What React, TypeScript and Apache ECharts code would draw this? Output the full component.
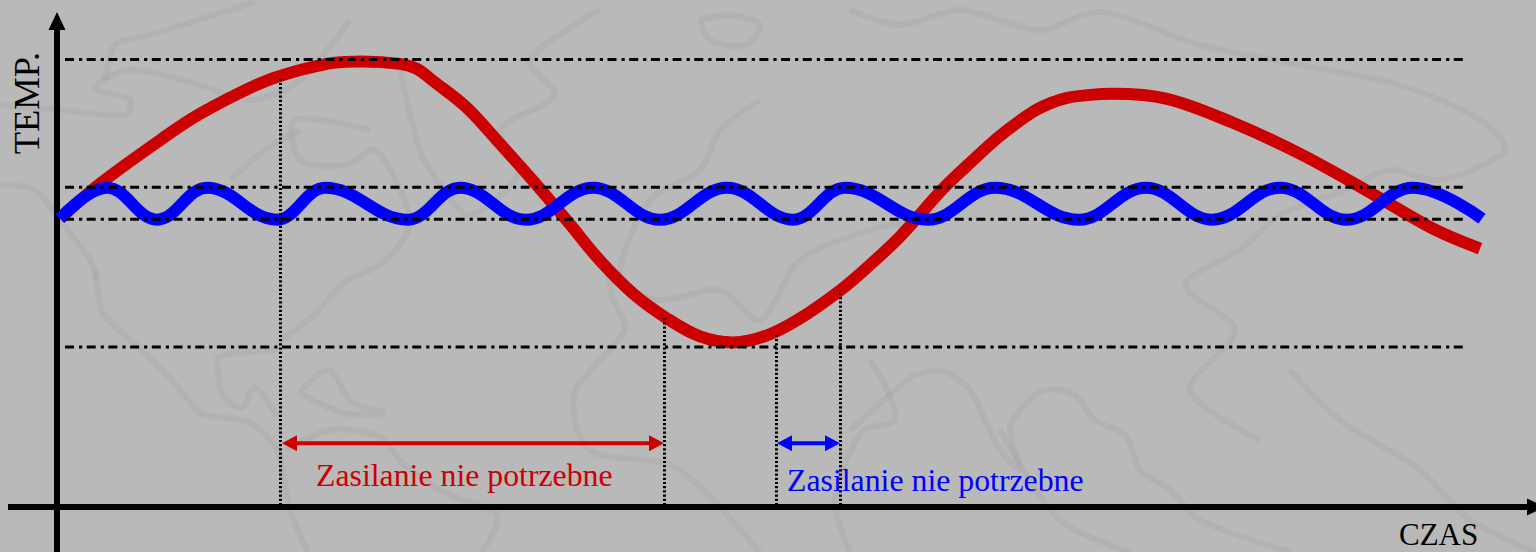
import React, { useEffect, useRef } from "react";
import * as echarts from "echarts";

// Time (t) and temperature (T), in arbitrary chart units.
const redTime = [3, 43, 110, 143, 193, 223, 276, 305, 343, 360, 376, 410, 443, 476, 510, 543, 576, 610, 643, 676, 710, 743, 783, 810, 843, 886, 910, 943, 976, 993, 1010, 1033, 1056, 1110, 1176, 1243, 1310, 1376, 1423];
const redTemp = [289, 324, 372.5, 394, 420, 432, 445, 446.5, 444, 439, 427, 400, 364, 327, 287, 247, 214, 189, 171, 165, 172, 189, 217, 240, 271, 319, 342, 372, 396, 404.5, 410, 413, 414, 409, 385, 354, 317, 279, 259];
const blueTime = [3, 50, 100, 150, 220, 268, 351, 403, 469, 536, 603, 670, 736, 788, 871, 938, 1022, 1089, 1155, 1223, 1290, 1356, 1425];
const blueTemp = [289, 320, 288, 320, 288, 320, 288, 320, 288, 320, 288, 320, 288, 320, 288, 320, 288, 320, 288, 320, 288, 320, 289];
const levelTemps = [448.5, 320.5, 288.5, 160.5];
const levelStart = 8;
const levelEnd = 1406;
const markerTimes = [223.5, 607.5, 719.5, 783.5];
const markerTops = [431, 192, 174, 217];
const redSpan = [232.5, 599.5];
const blueSpan = [727.5, 775.5];
const spanTemp = 64;
const xName = "CZAS";
const yName = "TEMP.";
const redLabel = "Zasilanie nie potrzebne";
const blueLabel = "Zasilanie nie potrzebne";

// Faint world map in the page background (decorative outlines, page pixels).
const mapOutlines: number[][][] = [
  [[96, 270], [103, 313], [134, 343], [178, 387], [201, 413], [250, 423], [277, 450], [290, 510], [308, 552]],
  [[277, 350], [219, 357], [219, 377], [223, 397], [243, 407], [254, 387], [277, 417]],
  [[299, 393], [328, 370], [353, 403], [384, 413], [344, 413], [299, 393]],
  [[286, 450], [330, 430], [380, 437], [402, 463], [446, 493], [496, 513], [496, 527], [482, 552]],
  [[281, 340], [312, 317], [344, 283], [384, 262], [410, 225], [400, 190], [375, 150], [345, 165], [300, 160], [295, 120], [370, 130]],
  [[607, 270], [612, 297], [625, 327], [612, 347], [576, 390], [576, 427], [594, 453], [665, 463], [696, 483], [760, 552]],
  [[0, 185], [35, 190], [60, 220], [90, 260], [96, 280]],
  [[0, 105], [60, 110], [125, 115], [130, 100], [95, 88], [130, 70], [200, 85], [250, 100], [300, 80], [350, 20]],
  [[105, 80], [115, 45], [150, 35], [230, 10], [255, 2]],
  [[230, 180], [265, 150], [300, 130]],
  [[400, 70], [420, 150], [440, 185], [470, 215], [520, 170], [500, 130], [555, 95], [530, 60], [600, 10]],
  [[850, 430], [890, 395], [915, 375], [945, 372], [970, 390], [985, 420], [1000, 450], [1020, 470], [1010, 430], [1020, 410], [1045, 390], [1075, 395], [1095, 420], [1125, 435], [1140, 470], [1170, 490], [1200, 520], [1290, 552]],
  [[870, 360], [885, 385], [895, 420], [862, 432], [835, 500], [850, 552]],
  [[700, 20], [730, 15], [760, 25], [745, 45], [710, 40], [700, 20]],
  [[850, 10], [900, 25], [960, 10], [1040, 30], [1100, 12], [1200, 45], [1300, 65], [1400, 85], [1480, 120], [1505, 150], [1440, 180], [1390, 170], [1345, 190], [1280, 215], [1240, 250], [1185, 285], [1235, 330], [1190, 390], [1260, 440]],
  [[760, 100], [720, 130], [700, 170], [650, 200], [620, 280], [660, 300], [720, 290], [760, 320], [800, 260], [870, 230], [925, 215], [960, 170], [1010, 130]],
  [[1290, 370], [1340, 420], [1420, 470], [1470, 520], [1536, 552]],
  [[1000, 430], [1060, 520], [1130, 552]],
];

const pairs = (xs: number[], ys: number[]) => xs.map((x, i) => [x, ys[i]]);

export default function App() {
  const ref = useRef<HTMLDivElement>(null);
  useEffect(() => {
    document.body.style.margin = "0";
    const chart = echarts.init(ref.current!, undefined, { renderer: "svg" });
    const serif = "Liberation Serif";
    const levelSeries = levelTemps.map((temp) => ({
      type: "line",
      silent: true,
      symbol: "none",
      z: 6,
      data: [[levelStart, temp], [levelEnd, temp]],
      lineStyle: { color: "#000", width: 3, type: [9, 5, 3.2, 4.5], cap: "butt" },
    }));
    const markerSeries = markerTimes.map((time, i) => ({
      type: "line",
      silent: true,
      symbol: "none",
      z: 6,
      data: [[time, 2], [time, markerTops[i]]],
      lineStyle: { color: "#000", width: 3, type: [2.2, 2], cap: "butt" },
    }));
    const spanSeries = (span: number[], color: string) => ({
      type: "line",
      silent: true,
      symbol: "triangle",
      symbolSize: [16, 15],
      showSymbol: true,
      showAllSymbol: true,
      z: 7,
      data: [
        { value: [span[0], spanTemp], symbolRotate: 90 },
        { value: [span[1], spanTemp], symbolRotate: -90 },
      ],
      itemStyle: { color },
      lineStyle: { color, width: 4 },
    });
    chart.setOption({
      animation: false,
      backgroundColor: "#b9b9b9",
      grid: { left: 8, right: 0, top: 21, bottom: -1 },
      xAxis: {
        type: "value",
        min: -49,
        max: 1479,
        splitLine: { show: false },
        axisTick: { show: false },
        axisLabel: { show: false },
        axisLine: {
          onZero: true,
          symbol: ["none", "triangle"],
          symbolSize: [17, 18],
          lineStyle: { color: "#000", width: 6, cap: "butt" },
        },
      },
      yAxis: {
        type: "value",
        min: -45,
        max: 487,
        splitLine: { show: false },
        axisTick: { show: false },
        axisLabel: { show: false },
        axisLine: {
          onZero: true,
          symbol: ["none", "triangle"],
          symbolSize: [17, 18],
          lineStyle: { color: "#000", width: 6, cap: "butt" },
        },
        name: yName,
        nameLocation: "end",
        nameRotate: 90,
        nameGap: -82,
        nameTextStyle: { fontFamily: serif, fontSize: 36.5, color: "#000", align: "center", verticalAlign: "bottom", padding: [0, 0, 12, 0] },
      },
      graphic: [
        ...mapOutlines.map((points) => ({
          type: "polyline",
          silent: true,
          z: -10,
          shape: { points, smooth: 0.3 },
          style: { fill: "none", stroke: "rgba(150,150,150,0.2)", lineWidth: 6, lineJoin: "round" },
        })),
        {
          type: "text",
          x: 1399,
          y: 550,
          z: 20,
          style: { text: xName, fill: "#000", font: `31px "${serif}"`, textAlign: "left", textVerticalAlign: "bottom" },
        },
        {
          type: "text",
          x: 316,
          y: 491,
          z: 20,
          style: { text: redLabel, fill: "#cc0000", font: `31.8px "${serif}"`, textAlign: "left", textVerticalAlign: "bottom" },
        },
        {
          type: "text",
          x: 787,
          y: 496,
          z: 20,
          style: { text: blueLabel, fill: "#0000ff", font: `31.8px "${serif}"`, textAlign: "left", textVerticalAlign: "bottom" },
        },
      ],
      series: [
        {
          type: "line",
          silent: true,
          symbol: "none",
          smooth: 0.35,
          z: 3,
          data: pairs(redTime, redTemp),
          lineStyle: { color: "#cc0000", width: 12, cap: "butt" },
        },
        {
          type: "line",
          silent: true,
          symbol: "none",
          smooth: 0.4,
          smoothMonotone: "x",
          z: 4,
          data: pairs(blueTime, blueTemp),
          lineStyle: { color: "#0000ff", width: 12, cap: "butt" },
        },
        ...levelSeries,
        ...markerSeries,
        spanSeries(redSpan, "#cc0000"),
        spanSeries(blueSpan, "#0000ff"),
      ],
    });
    return () => chart.dispose();
  }, []);
  return <div ref={ref} style={{ position: "fixed", left: 0, top: 0, width: 1536, height: 552 }} />;
}
